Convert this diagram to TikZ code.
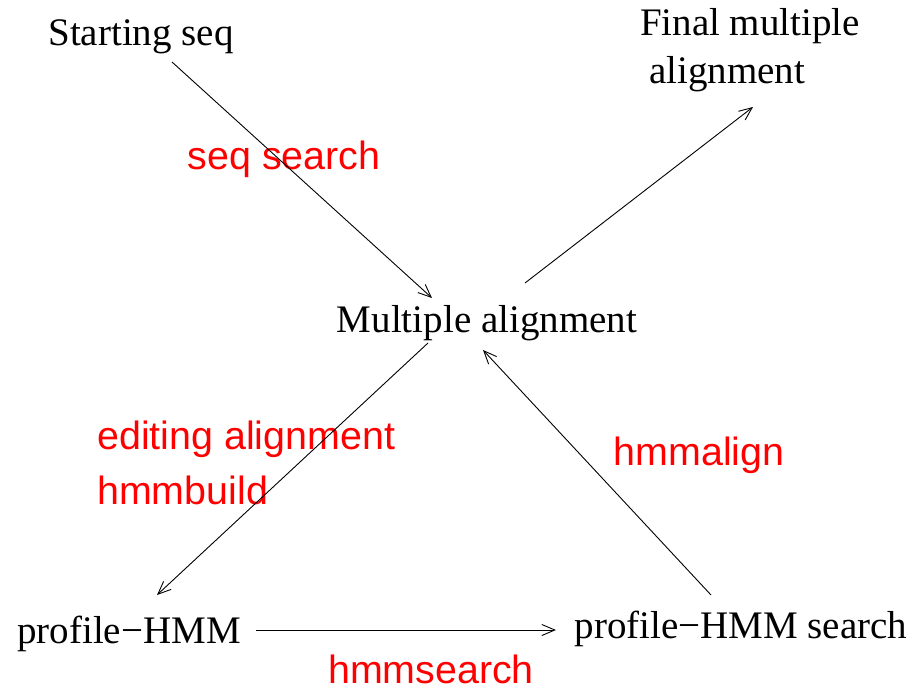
\documentclass[tikz,border=0pt]{standalone}
\usepackage{fontspec}
\setmainfont{Liberation Serif}
\newfontfamily\labelfont{Liberation Sans}
\usetikzlibrary{arrows.meta}
\tikzset{
  box/.style={inner sep=0pt, anchor=base, font=\fontsize{39}{45}\selectfont},
  lab/.style={inner sep=0pt, anchor=base, text=red, font=\labelfont\fontsize{39.4}{45}\selectfont},
  conn/.style={line width=0.9pt, -{Straight Barb[length=13pt,width=11pt,line width=0.9pt]}}
}
\begin{document}
\begin{tikzpicture}[x=1pt,y=-1pt]
\useasboundingbox (0,0) rectangle (913,690);
\node[box] (start) at (141,46) {Starting seq};
\node[box] (final1) at (750,36) {Final multiple};
\node[box] (final2) at (727,84) {alignment};
\node[box] (multi) at (487,332) {Multiple alignment};
\node[box] (hmm) at (129,643) {profile−HMM};
\node[box] (search) at (741,638) {profile−HMM search};
\node[lab] (l1) at (284,169) {seq search};
\node[lab, anchor=base west] (l2) at (97,449) {editing alignment};
\node[lab, anchor=base west] (l3) at (97,504) {hmmbuild};
\node[lab] (l4) at (699,465) {hmmalign};
\node[lab] (l5) at (431,683) {hmmsearch};
\coordinate (a1) at (172,62);
\coordinate (b1) at (432,298);
\coordinate (a2) at (525,283);
\coordinate (b2) at (753,107);
\coordinate (a3) at (428,343);
\coordinate (b3) at (157,595);
\coordinate (a4) at (256,630);
\coordinate (b4) at (556,630);
\coordinate (a5) at (711,595);
\coordinate (b5) at (483,350);
\draw[conn] (a1) -- (b1);
\draw[conn] (a2) -- (b2);
\draw[conn] (a3) -- (b3);
\draw[conn] (a4) -- (b4);
\draw[conn] (a5) -- (b5);
\end{tikzpicture}
\end{document}
